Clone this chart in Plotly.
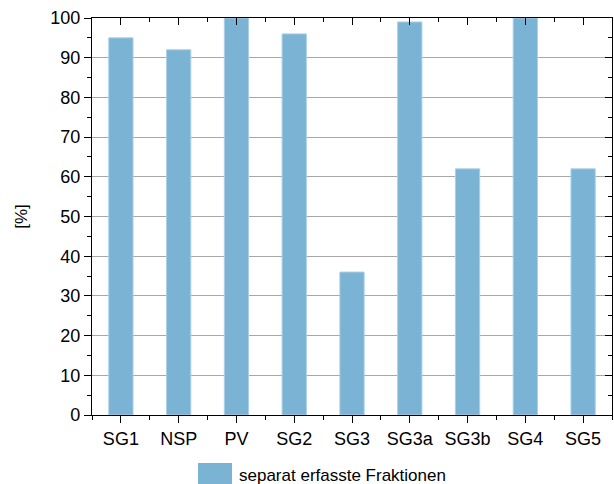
import plotly.graph_objects as go

categories = ["SG1", "NSP", "PV", "SG2", "SG3", "SG3a", "SG3b", "SG4", "SG5"]
values = [95, 92, 100, 96, 36, 99, 62, 100, 62]
series_name = "separat erfasste Fraktionen"
y_ticks = list(range(0, 101, 10))

idx = list(range(len(categories)))
BAR_COLOR = "#7ab3d4"
W, H = 614, 484
ML, MR, MT, MB = 92, 2, 18, 69
PW, PH = W - ML - MR, H - MT - MB


def px_x(p):
    return (p - ML) / PW


def px_y(p):
    return (H - MB - p) / PH


fig = go.Figure()
fig.add_trace(go.Bar(
    x=idx, y=values, name=series_name, width=0.42,
    marker=dict(color=BAR_COLOR, line=dict(color="#a9d0e6", width=1)),
    showlegend=False,
))

font = dict(family="Liberation Sans, Arial, sans-serif", color="black")

fig.update_layout(
    width=W, height=H,
    margin=dict(l=ML, r=MR, t=MT, b=MB, autoexpand=False),
    plot_bgcolor="white", paper_bgcolor="white",
    font=dict(size=18, **font),
    showlegend=False,
    xaxis=dict(
        range=[-0.5, len(categories) - 0.5], automargin=False,
        tickvals=idx, ticktext=categories,
        ticks="outside", ticklen=7, tickwidth=1.2, tickcolor="black",
        showline=True, linecolor="black", linewidth=1.2,
        showgrid=False, zeroline=False,
        minor=dict(tick0=0.5, dtick=1, ticks="outside", ticklen=4, tickcolor="black", showgrid=False),
        tickfont=dict(size=18, **font),
    ),
    xaxis2=dict(
        overlaying="x", side="top", automargin=False,
        range=[-0.5, len(categories) - 0.5],
        tickvals=idx, showticklabels=False,
        ticks="inside", ticklen=7, tickwidth=1.2, tickcolor="black",
        showline=True, linecolor="black", linewidth=1.2,
        showgrid=False, zeroline=False,
        minor=dict(tick0=0.5, dtick=1, ticks="inside", ticklen=4, tickcolor="black", showgrid=False),
    ),
    yaxis=dict(
        range=[0, 100], tickvals=y_ticks, automargin=False,
        ticks="outside", ticklen=7, tickwidth=1.2, tickcolor="black",
        showline=True, linecolor="black", linewidth=1.2,
        showgrid=True, gridcolor="#a8a8a8", gridwidth=1, zeroline=False,
        minor=dict(dtick=5, ticks="outside", ticklen=4, tickcolor="black", showgrid=False),
        title=dict(text="[%]", font=dict(size=17, **font), standoff=18),
        tickfont=dict(size=18, **font),
    ),
    yaxis2=dict(
        overlaying="y", side="right", automargin=False,
        range=[0, 100], tickvals=y_ticks, showticklabels=False,
        ticks="inside", ticklen=7, tickwidth=1.2, tickcolor="black",
        showline=True, linecolor="black", linewidth=1.2,
        showgrid=False, zeroline=False,
        minor=dict(dtick=5, ticks="inside", ticklen=4, tickcolor="black", showgrid=False),
    ),
    shapes=[dict(
        type="rect", xref="paper", yref="paper",
        x0=px_x(198), x1=px_x(232), y0=px_y(463), y1=px_y(492),
        fillcolor=BAR_COLOR, line=dict(width=0),
    )],
    annotations=[dict(
        text=series_name, xref="paper", yref="paper",
        x=px_x(237), y=px_y(475), xanchor="left", yanchor="middle",
        showarrow=False, font=dict(size=17, **font),
    )],
)
# invisible trace to activate secondary axes
fig.add_trace(go.Scatter(x=[0], y=[0], xaxis="x2", yaxis="y2", mode="markers",
                         marker=dict(opacity=0), showlegend=False, hoverinfo="skip"))

fig.write_html("out.html", config={"displayModeBar": False},
               post_script="document.body.style.margin='0';document.body.style.overflow='hidden';")
